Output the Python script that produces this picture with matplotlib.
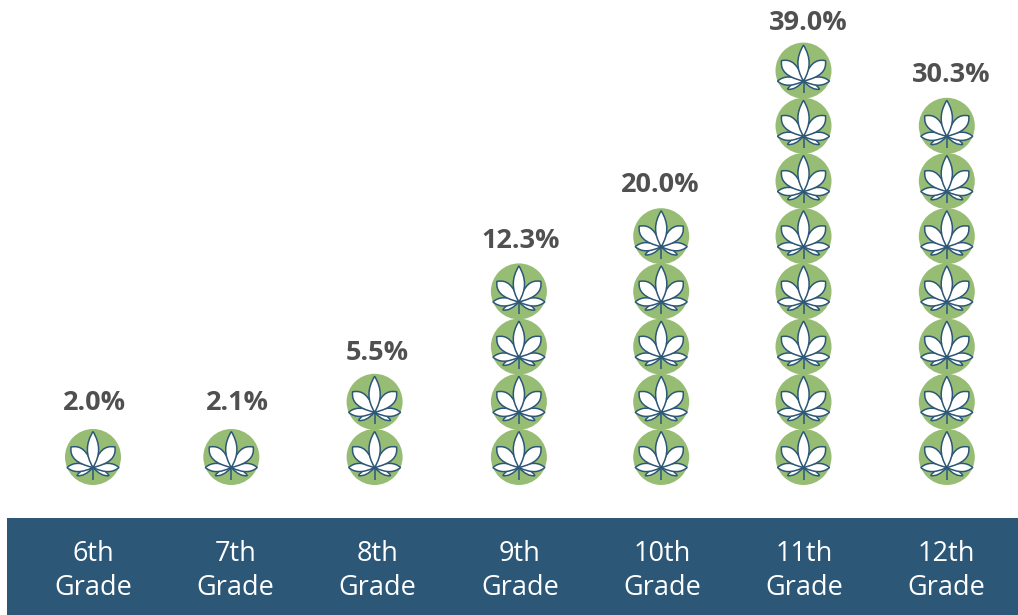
import numpy as np
import matplotlib
matplotlib.use("Agg")
import matplotlib.pyplot as plt
from matplotlib.patches import Ellipse, PathPatch, Rectangle
from matplotlib.path import Path
from matplotlib.transforms import Affine2D

grades = ["6th\nGrade", "7th\nGrade", "8th\nGrade", "9th\nGrade",
          "10th\nGrade", "11th\nGrade", "12th\nGrade"]
percent_labels = ["2.0%", "2.1%", "5.5%", "12.3%", "20.0%", "39.0%", "30.3%"]
icon_counts = [1, 1, 2, 4, 5, 8, 7]

GREEN = "#97BD74"
BLUE = "#2C5777"
GREY = "#505050"
FONT = "Open Sans"

# size of one category / one stacked icon, in pixels
X_STEP = 142.3
Y_STEP = 55.2
FIRST_X = 93
FIRST_Y = 457
R = 28
# small hand nudges seen in the picture
icon_dx = [0, -4, -3, -1, -1, -1, 0]
label_dx = [1, 2, 0, 1, -2, 4, 4]
label_dy = [2, 2, 7, 5, 4, 8, 5]


def leaf(length, width, angle, c1=0.45, c2=0.75):
    # c1, c2 place the bulge along the leaf, larger means nearer the tip
    verts = [(0, 0), (c1 * length, width), (c2 * length, width), (length, 0),
             (c2 * length, -width), (c1 * length, -width), (0, 0)]
    codes = [Path.MOVETO] + [Path.CURVE4] * 6
    return Path(verts, codes).transformed(Affine2D().rotate_deg(angle))


# pixel sizes, base of the leaves is the origin
LEAVES = [leaf(18, 3, 207), leaf(18, 3, -27),
          leaf(26, 5.5, 180), leaf(26, 5.5, 0),
          leaf(30, 8.5, 137, 0.5, 0.8), leaf(30, 8.5, 43, 0.5, 0.8),
          leaf(36, 7.5, 90, 0.35, 0.65)]


def draw_icon(ax, x, y):
    # data units differ on each axis, so go through px sizes
    ax.add_patch(Ellipse((x, y), 2 * R / X_STEP, 2 * R / Y_STEP, fc=GREEN, ec="none", zorder=2))
    to_data = Affine2D().translate(0, -10.5).scale(1 / X_STEP, 1 / Y_STEP).translate(x, y)
    stem = Path([(0, -12), (0, 6)])
    ax.add_patch(PathPatch(stem.transformed(to_data), ec=BLUE, lw=1.1, zorder=3))
    for p in LEAVES:
        ax.add_patch(PathPatch(p.transformed(to_data), fc="white", ec=BLUE, lw=1.1, zorder=3))


fig = plt.figure(figsize=(10.18, 6.15), dpi=100)
ax = fig.add_axes([0, 0, 1, 1])
ax.set_xlim(-FIRST_X / X_STEP, (1018 - FIRST_X) / X_STEP)
ax.set_ylim(-(615 - FIRST_Y) / Y_STEP, FIRST_Y / Y_STEP)
ax.axis("off")

fig.add_artist(Rectangle((7 / 1018, 0), 1011 / 1018, 97 / 615, transform=fig.transFigure,
                         fc=BLUE, ec="none", zorder=0))

for i, n in enumerate(icon_counts):
    xc = i + icon_dx[i] / X_STEP
    for k in range(n):
        draw_icon(ax, xc, k)
    ax.text(i + label_dx[i] / X_STEP, n - 1 + (55.5 - label_dy[i]) / Y_STEP, percent_labels[i],
            ha="center", va="center", fontsize=19.5, fontweight="bold", color=GREY, family=FONT)
    ax.text(i, -(571 - FIRST_Y) / Y_STEP, grades[i],
            ha="center", va="center", fontsize=19.5, color="white", family=FONT, linespacing=1.3)

fig.savefig("out.png", dpi=100)
